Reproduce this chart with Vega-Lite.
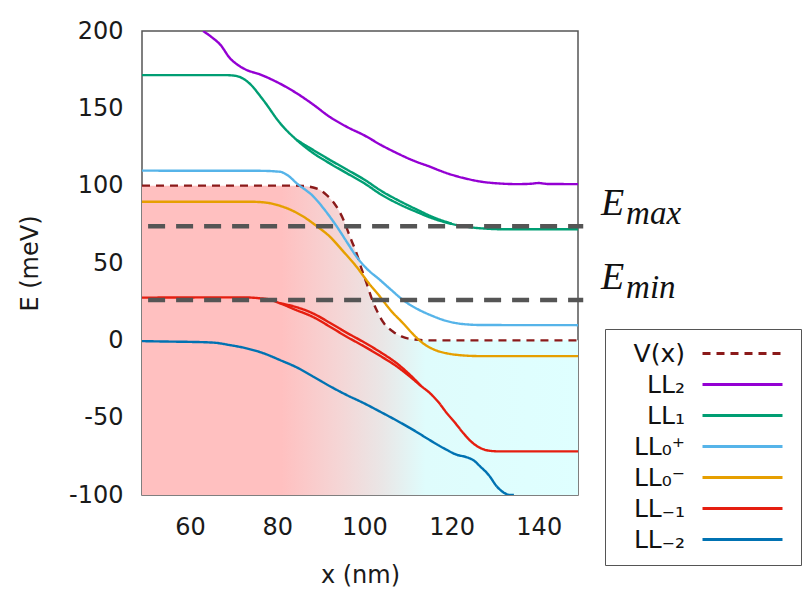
{
  "$schema": "https://vega.github.io/schema/vega-lite/v6.json",
  "width": 436,
  "height": 464,
  "autosize": {"type": "none"},
  "padding": {"left": 142, "top": 31, "right": 229, "bottom": 98},
  "background": "white",
  "config": {
    "view": {"stroke": "#555555", "strokeWidth": 1.5},
    "font": "DejaVu Sans",
    "axis": {
      "grid": false, "ticks": false, "tickSize": 0, "domain": false,
      "labelFont": "DejaVu Sans", "labelFontSize": 24, "labelColor": "#1a1a1a",
      "titleFont": "DejaVu Sans", "titleFontSize": 24, "titleFontWeight": "normal", "titleColor": "#1a1a1a"
    }
  },
  "datasets": {
    "curves": [
      {"s": "V(x)", "b": "a", "x": 49, "y": 100},
      {"s": "V(x)", "b": "a", "x": 84, "y": 100},
      {"s": "V(x)", "b": "a", "x": 86, "y": 99.8},
      {"s": "V(x)", "b": "a", "x": 88, "y": 99},
      {"s": "V(x)", "b": "a", "x": 90, "y": 97},
      {"s": "V(x)", "b": "a", "x": 91.3, "y": 94},
      {"s": "V(x)", "b": "a", "x": 93, "y": 89},
      {"s": "V(x)", "b": "a", "x": 95.2, "y": 78},
      {"s": "V(x)", "b": "a", "x": 96.7, "y": 67},
      {"s": "V(x)", "b": "a", "x": 98.2, "y": 56.3},
      {"s": "V(x)", "b": "a", "x": 99.5, "y": 45},
      {"s": "V(x)", "b": "a", "x": 100.5, "y": 37},
      {"s": "V(x)", "b": "a", "x": 101.7, "y": 27},
      {"s": "V(x)", "b": "a", "x": 102.8, "y": 19.6},
      {"s": "V(x)", "b": "a", "x": 104.5, "y": 11},
      {"s": "V(x)", "b": "a", "x": 106.6, "y": 5.6},
      {"s": "V(x)", "b": "a", "x": 108.5, "y": 2.5},
      {"s": "V(x)", "b": "a", "x": 111.2, "y": 0.6},
      {"s": "V(x)", "b": "a", "x": 115, "y": 0},
      {"s": "V(x)", "b": "a", "x": 149, "y": 0},

      {"s": "LL₂", "b": "a", "x": 63, "y": 200},
      {"s": "LL₂", "b": "a", "x": 65, "y": 196},
      {"s": "LL₂", "b": "a", "x": 67, "y": 191},
      {"s": "LL₂", "b": "a", "x": 69.2, "y": 182.3},
      {"s": "LL₂", "b": "a", "x": 71, "y": 178},
      {"s": "LL₂", "b": "a", "x": 73, "y": 174.8},
      {"s": "LL₂", "b": "a", "x": 76, "y": 172},
      {"s": "LL₂", "b": "a", "x": 79, "y": 168.3},
      {"s": "LL₂", "b": "a", "x": 84.5, "y": 159.7},
      {"s": "LL₂", "b": "a", "x": 88, "y": 153},
      {"s": "LL₂", "b": "a", "x": 92, "y": 144.6},
      {"s": "LL₂", "b": "a", "x": 96, "y": 138},
      {"s": "LL₂", "b": "a", "x": 100, "y": 132.5},
      {"s": "LL₂", "b": "a", "x": 104, "y": 126},
      {"s": "LL₂", "b": "a", "x": 107.5, "y": 121},
      {"s": "LL₂", "b": "a", "x": 111, "y": 116.5},
      {"s": "LL₂", "b": "a", "x": 115, "y": 112.3},
      {"s": "LL₂", "b": "a", "x": 119, "y": 108},
      {"s": "LL₂", "b": "a", "x": 123, "y": 104.8},
      {"s": "LL₂", "b": "a", "x": 127, "y": 102.5},
      {"s": "LL₂", "b": "a", "x": 130.5, "y": 101.5},
      {"s": "LL₂", "b": "a", "x": 135, "y": 101},
      {"s": "LL₂", "b": "a", "x": 138, "y": 101.2},
      {"s": "LL₂", "b": "a", "x": 140, "y": 101.7},
      {"s": "LL₂", "b": "a", "x": 142, "y": 101.1},
      {"s": "LL₂", "b": "a", "x": 149, "y": 101},

      {"s": "LL₁", "b": "a", "x": 49, "y": 171.5},
      {"s": "LL₁", "b": "a", "x": 68, "y": 171.5},
      {"s": "LL₁", "b": "a", "x": 70.5, "y": 171},
      {"s": "LL₁", "b": "a", "x": 72, "y": 169.5},
      {"s": "LL₁", "b": "a", "x": 73.5, "y": 166.5},
      {"s": "LL₁", "b": "a", "x": 76.8, "y": 155.4},
      {"s": "LL₁", "b": "a", "x": 80.7, "y": 140.3},
      {"s": "LL₁", "b": "a", "x": 84.5, "y": 129.5},
      {"s": "LL₁", "b": "a", "x": 88.3, "y": 121},
      {"s": "LL₁", "b": "a", "x": 92, "y": 114.5},
      {"s": "LL₁", "b": "a", "x": 96, "y": 108},
      {"s": "LL₁", "b": "a", "x": 100, "y": 101.5},
      {"s": "LL₁", "b": "a", "x": 104, "y": 94},
      {"s": "LL₁", "b": "a", "x": 108, "y": 88},
      {"s": "LL₁", "b": "a", "x": 112, "y": 83},
      {"s": "LL₁", "b": "a", "x": 116, "y": 78.5},
      {"s": "LL₁", "b": "a", "x": 120, "y": 75.3},
      {"s": "LL₁", "b": "a", "x": 124, "y": 73.2},
      {"s": "LL₁", "b": "a", "x": 128, "y": 72.2},
      {"s": "LL₁", "b": "a", "x": 132, "y": 71.8},
      {"s": "LL₁", "b": "a", "x": 149, "y": 71.8},
      {"s": "LL₁", "b": "b", "x": 84.5, "y": 129.5},
      {"s": "LL₁", "b": "b", "x": 88.3, "y": 123},
      {"s": "LL₁", "b": "b", "x": 92, "y": 116.8},
      {"s": "LL₁", "b": "b", "x": 96, "y": 110.4},
      {"s": "LL₁", "b": "b", "x": 100, "y": 103.9},
      {"s": "LL₁", "b": "b", "x": 104, "y": 96.4},
      {"s": "LL₁", "b": "b", "x": 108, "y": 90.2},
      {"s": "LL₁", "b": "b", "x": 112, "y": 84.6},
      {"s": "LL₁", "b": "b", "x": 116, "y": 79.4},
      {"s": "LL₁", "b": "b", "x": 120, "y": 75.5},

      {"s": "LL₀⁺", "b": "a", "x": 49, "y": 109.7},
      {"s": "LL₀⁺", "b": "a", "x": 76, "y": 109.6},
      {"s": "LL₀⁺", "b": "a", "x": 80.6, "y": 109},
      {"s": "LL₀⁺", "b": "a", "x": 82.5, "y": 106.5},
      {"s": "LL₀⁺", "b": "a", "x": 84.5, "y": 101.5},
      {"s": "LL₀⁺", "b": "a", "x": 88.3, "y": 93},
      {"s": "LL₀⁺", "b": "a", "x": 91, "y": 84},
      {"s": "LL₀⁺", "b": "a", "x": 93.7, "y": 73.5},
      {"s": "LL₀⁺", "b": "a", "x": 96, "y": 63.5},
      {"s": "LL₀⁺", "b": "a", "x": 98.2, "y": 54.1},
      {"s": "LL₀⁺", "b": "a", "x": 100.5, "y": 46.5},
      {"s": "LL₀⁺", "b": "a", "x": 103.6, "y": 39},
      {"s": "LL₀⁺", "b": "a", "x": 106, "y": 33},
      {"s": "LL₀⁺", "b": "a", "x": 108.9, "y": 26},
      {"s": "LL₀⁺", "b": "a", "x": 112, "y": 20.5},
      {"s": "LL₀⁺", "b": "a", "x": 115.1, "y": 16.4},
      {"s": "LL₀⁺", "b": "a", "x": 118.5, "y": 12.8},
      {"s": "LL₀⁺", "b": "a", "x": 122.7, "y": 10.5},
      {"s": "LL₀⁺", "b": "a", "x": 127, "y": 9.9},
      {"s": "LL₀⁺", "b": "a", "x": 149, "y": 9.8},

      {"s": "LL₀⁻", "b": "a", "x": 49, "y": 89.6},
      {"s": "LL₀⁻", "b": "a", "x": 74, "y": 89.6},
      {"s": "LL₀⁻", "b": "a", "x": 77, "y": 89.2},
      {"s": "LL₀⁻", "b": "a", "x": 80, "y": 87.5},
      {"s": "LL₀⁻", "b": "a", "x": 83, "y": 84.5},
      {"s": "LL₀⁻", "b": "a", "x": 86, "y": 80},
      {"s": "LL₀⁻", "b": "a", "x": 89, "y": 74},
      {"s": "LL₀⁻", "b": "a", "x": 92.1, "y": 67},
      {"s": "LL₀⁻", "b": "a", "x": 95, "y": 58},
      {"s": "LL₀⁻", "b": "a", "x": 98.2, "y": 47.6},
      {"s": "LL₀⁻", "b": "a", "x": 101, "y": 37},
      {"s": "LL₀⁻", "b": "a", "x": 103.6, "y": 28.2},
      {"s": "LL₀⁻", "b": "a", "x": 106, "y": 19.5},
      {"s": "LL₀⁻", "b": "a", "x": 108.9, "y": 11},
      {"s": "LL₀⁻", "b": "a", "x": 111, "y": 4.5},
      {"s": "LL₀⁻", "b": "a", "x": 113.5, "y": -2},
      {"s": "LL₀⁻", "b": "a", "x": 116, "y": -6},
      {"s": "LL₀⁻", "b": "a", "x": 118.9, "y": -8.4},
      {"s": "LL₀⁻", "b": "a", "x": 122, "y": -9.6},
      {"s": "LL₀⁻", "b": "a", "x": 126.6, "y": -10.2},
      {"s": "LL₀⁻", "b": "a", "x": 149, "y": -10.2},

      {"s": "LL₋₁", "b": "a", "x": 49, "y": 27.6},
      {"s": "LL₋₁", "b": "a", "x": 72, "y": 27.8},
      {"s": "LL₋₁", "b": "a", "x": 76, "y": 27.2},
      {"s": "LL₋₁", "b": "a", "x": 78, "y": 26.5},
      {"s": "LL₋₁", "b": "a", "x": 80.6, "y": 24},
      {"s": "LL₋₁", "b": "a", "x": 84, "y": 20},
      {"s": "LL₋₁", "b": "a", "x": 88.3, "y": 15},
      {"s": "LL₋₁", "b": "a", "x": 92, "y": 9},
      {"s": "LL₋₁", "b": "a", "x": 95.9, "y": 2.4},
      {"s": "LL₋₁", "b": "a", "x": 100, "y": -4},
      {"s": "LL₋₁", "b": "a", "x": 103.6, "y": -10},
      {"s": "LL₋₁", "b": "a", "x": 107.5, "y": -17},
      {"s": "LL₋₁", "b": "a", "x": 111.2, "y": -25.2},
      {"s": "LL₋₁", "b": "a", "x": 113, "y": -29.5},
      {"s": "LL₋₁", "b": "a", "x": 115.1, "y": -34.3},
      {"s": "LL₋₁", "b": "a", "x": 117, "y": -40},
      {"s": "LL₋₁", "b": "a", "x": 118.9, "y": -47},
      {"s": "LL₋₁", "b": "a", "x": 121, "y": -54},
      {"s": "LL₋₁", "b": "a", "x": 122.7, "y": -60},
      {"s": "LL₋₁", "b": "a", "x": 124.5, "y": -65.5},
      {"s": "LL₋₁", "b": "a", "x": 126.6, "y": -69.6},
      {"s": "LL₋₁", "b": "a", "x": 128.5, "y": -71.3},
      {"s": "LL₋₁", "b": "a", "x": 131, "y": -71.8},
      {"s": "LL₋₁", "b": "a", "x": 149, "y": -71.8},
      {"s": "LL₋₁", "b": "b", "x": 80.6, "y": 24},
      {"s": "LL₋₁", "b": "b", "x": 84, "y": 21.8},
      {"s": "LL₋₁", "b": "b", "x": 88.3, "y": 17.3},
      {"s": "LL₋₁", "b": "b", "x": 92, "y": 11.5},
      {"s": "LL₋₁", "b": "b", "x": 95.9, "y": 5},
      {"s": "LL₋₁", "b": "b", "x": 100, "y": -1.4},
      {"s": "LL₋₁", "b": "b", "x": 103.6, "y": -7.5},
      {"s": "LL₋₁", "b": "b", "x": 107.5, "y": -15},
      {"s": "LL₋₁", "b": "b", "x": 111.2, "y": -24.3},
      {"s": "LL₋₁", "b": "b", "x": 113, "y": -29.5},

      {"s": "LL₋₂", "b": "a", "x": 49, "y": -0.5},
      {"s": "LL₋₂", "b": "a", "x": 55, "y": -0.8},
      {"s": "LL₋₂", "b": "a", "x": 60, "y": -1},
      {"s": "LL₋₂", "b": "a", "x": 65.5, "y": -1.5},
      {"s": "LL₋₂", "b": "a", "x": 69, "y": -3},
      {"s": "LL₋₂", "b": "a", "x": 73, "y": -5.2},
      {"s": "LL₋₂", "b": "a", "x": 77, "y": -8.5},
      {"s": "LL₋₂", "b": "a", "x": 80.6, "y": -12.7},
      {"s": "LL₋₂", "b": "a", "x": 84.5, "y": -17.5},
      {"s": "LL₋₂", "b": "a", "x": 88.3, "y": -23.5},
      {"s": "LL₋₂", "b": "a", "x": 92, "y": -29.5},
      {"s": "LL₋₂", "b": "a", "x": 95.9, "y": -35.3},
      {"s": "LL₋₂", "b": "a", "x": 100, "y": -40.8},
      {"s": "LL₋₂", "b": "a", "x": 103.6, "y": -46.1},
      {"s": "LL₋₂", "b": "a", "x": 107.5, "y": -52},
      {"s": "LL₋₂", "b": "a", "x": 111.2, "y": -57.9},
      {"s": "LL₋₂", "b": "a", "x": 115, "y": -64.5},
      {"s": "LL₋₂", "b": "a", "x": 118.9, "y": -70.8},
      {"s": "LL₋₂", "b": "a", "x": 121, "y": -73.8},
      {"s": "LL₋₂", "b": "a", "x": 123.5, "y": -75.6},
      {"s": "LL₋₂", "b": "a", "x": 125, "y": -77.5},
      {"s": "LL₋₂", "b": "a", "x": 126.6, "y": -81.6},
      {"s": "LL₋₂", "b": "a", "x": 128.5, "y": -87},
      {"s": "LL₋₂", "b": "a", "x": 130.4, "y": -94.5},
      {"s": "LL₋₂", "b": "a", "x": 132, "y": -98.5},
      {"s": "LL₋₂", "b": "a", "x": 133.5, "y": -100},
      {"s": "LL₋₂", "b": "a", "x": 134.3, "y": -100}
    ],
    "levels": [
      {"main": "E", "sub": "max", "y": 73.8, "x0": 50.4, "x1": 150.2, "xl": 154.3},
      {"main": "E", "sub": "min", "y": 26.1, "x0": 50.4, "x1": 150.2, "xl": 154.3}
    ]
  },
  "encoding": {
    "x": {"field": "x", "type": "quantitative", "scale": {"domain": [49, 149], "nice": false, "zero": false},
          "axis": {"values": [60, 80, 100, 120, 140], "title": "x (nm)", "labelPadding": 20, "titlePadding": 24}},
    "y": {"field": "y", "type": "quantitative", "scale": {"domain": [-100, 200], "nice": false, "zero": false},
          "axis": {"values": [-100, -50, 0, 50, 100, 150, 200], "title": "E (meV)", "labelPadding": 19, "titlePadding": 26,
                   "labelExpr": "datum.value < 0 ? '-' + abs(datum.value) : '' + datum.value"}}
  },
  "layer": [
    {
      "data": {"name": "curves"},
      "transform": [{"filter": "datum.s === 'V(x)'"}],
      "mark": {"type": "area", "opacity": 1, "interpolate": "monotone",
        "color": {"gradient": "linear", "x1": 0, "y1": 0, "x2": 1, "y2": 0,
          "stops": [
            {"offset": 0, "color": "#ffc0c0"},
            {"offset": 0.32, "color": "#ffc0c0"},
            {"offset": 0.45, "color": "#f5d5d5"},
            {"offset": 0.55, "color": "#eae6e6"},
            {"offset": 0.65, "color": "#dffcfc"},
            {"offset": 1, "color": "#dfffff"}
          ]}},
      "encoding": {"y2": {"datum": -100}}
    },
    {
      "data": {"name": "curves"},
      "mark": {"type": "line", "interpolate": "monotone", "clip": true, "strokeWidth": 2.4},
      "encoding": {
        "detail": {"field": "b"},
        "color": {"field": "s", "type": "nominal", "title": null,
          "scale": {"domain": ["V(x)", "LL₂", "LL₁", "LL₀⁺", "LL₀⁻", "LL₋₁", "LL₋₂"],
                    "range": ["#8b1a1a", "#9400d3", "#009e73", "#56b4e9", "#e69f00", "#e51e10", "#0072b2"]},
          "legend": {
            "orient": "none", "legendX": 463, "legendY": 298,
            "labelFont": "DejaVu Sans", "labelFontSize": 25, "labelColor": "#111111",
            "labelAlign": "right", "labelOffset": -70,
            "symbolType": "M-8,0H8", "symbolSize": 100, "symbolOffset": 113, "symbolStrokeWidth": 3,
            "strokeColor": "#555555", "fillColor": "white",
            "padding": 12, "rowPadding": 5
          }},
        "strokeDash": {"field": "s", "type": "nominal", "title": null,
          "scale": {"domain": ["V(x)", "LL₂", "LL₁", "LL₀⁺", "LL₀⁻", "LL₋₁", "LL₋₂"],
                    "range": [[8, 6], [1, 0], [1, 0], [1, 0], [1, 0], [1, 0], [1, 0]]}}
      }
    },
    {
      "data": {"name": "levels"},
      "mark": {"type": "rule", "color": "#555555", "strokeWidth": 4.5, "strokeDash": [17, 11]},
      "encoding": {"x": {"field": "x0", "type": "quantitative"}, "x2": {"field": "x1"}, "y": {"field": "y", "type": "quantitative"}}
    },
    {
      "data": {"name": "levels"},
      "mark": {"type": "text", "font": "Liberation Serif", "fontStyle": "italic", "fontSize": 38, "align": "left", "baseline": "alphabetic", "dy": -11, "color": "#111111"},
      "encoding": {"x": {"field": "xl", "type": "quantitative"}, "y": {"field": "y", "type": "quantitative"}, "text": {"field": "main"}}
    },
    {
      "data": {"name": "levels"},
      "mark": {"type": "text", "font": "Liberation Serif", "fontStyle": "italic", "fontSize": 33, "align": "left", "baseline": "alphabetic", "dx": 25, "dy": -2, "color": "#111111"},
      "encoding": {"x": {"field": "xl", "type": "quantitative"}, "y": {"field": "y", "type": "quantitative"}, "text": {"field": "sub"}}
    }
  ]
}
